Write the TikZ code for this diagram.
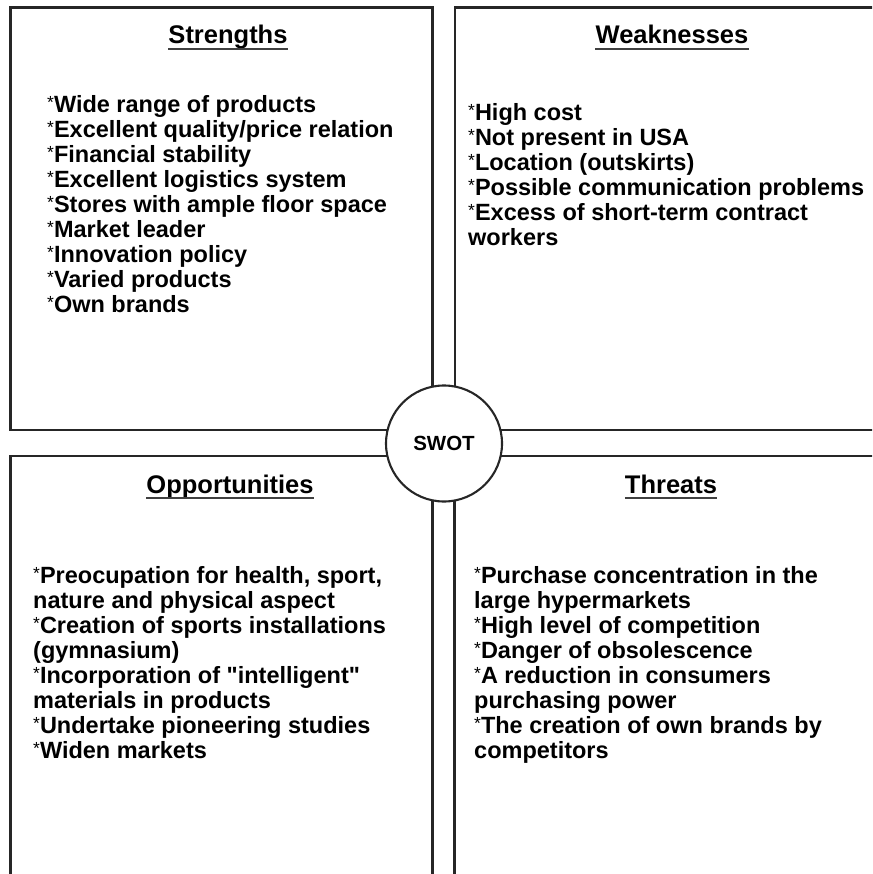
\documentclass[tikz,border=0pt]{standalone}
\usepackage{fontspec}
\setmainfont{Liberation Sans}[Ligatures=TeXOff]
\newcommand\bul{\raisebox{4pt}{\mdseries\fontsize{17.5}{17.5}\selectfont *}}
\begin{document}
\begin{tikzpicture}[x=1pt,y=-1pt,
  quad/.style={draw=black!85, line width=2.1pt, anchor=north west, inner sep=0pt, outer sep=0pt},
  hub/.style={draw=black!85, line width=2.1pt, fill=white, circle, minimum size=116pt, inner sep=0pt,
              font=\bfseries\fontsize{20.5}{22}\selectfont},
  ttl/.style={font=\bfseries\fontsize{25.5}{28}\selectfont, anchor=base, inner sep=0pt},
  body/.style={font=\bfseries\fontsize{23.5}{25}\selectfont, align=left, anchor=north west, inner sep=0pt},
  uline/.style={line width=1.3pt, black!75}
]
\fill[white] (0,0) rectangle (872,874);
\useasboundingbox (0,0) rectangle (872,874);
\clip (0,0) rectangle (872,874);
% quadrants
\node[quad, minimum width=422pt, minimum height=422.5pt] (S) at (10.5,7.5) {};
\node[quad, minimum width=445pt, minimum height=422.5pt] (W) at (455,7.5) {};
\node[quad, minimum width=422pt, minimum height=444pt] (O) at (10.5,456) {};
\node[quad, minimum width=445pt, minimum height=444pt] (T) at (454.5,456) {};
% centre
\node[hub] (swot) at (444,443.5) {SWOT};
% titles
\node[ttl] (tS) at (228,44) {Strengths};
\node[ttl] (tW) at (672,44) {Weaknesses};
\node[ttl] (tO) at (230,493) {Opportunities};
\node[ttl] (tT) at (671,493) {Threats};
\foreach \t in {tS,tW,tO,tT}
  \draw[uline] ([yshift=-5pt]\t.base west) -- ([yshift=-5pt]\t.base east);
% bodies
\node[body] (bS) at (47,95) {\bul Wide range of products\\\bul Excellent quality/price relation\\\bul Financial stability\\\bul Excellent logistics system\\\bul Stores with ample floor space\\\bul Market leader\\\bul Innovation policy\\\bul Varied products\\\bul Own brands};
\node[body] (bW) at (468,103) {\bul High cost\\\bul Not present in USA\\\bul Location (outskirts)\\\bul Possible communication problems\\\bul Excess of short-term contract\\workers};
\node[body] (bO) at (33,566) {\bul Preocupation for health, sport,\\nature and physical aspect\\\bul Creation of sports installations\\(gymnasium)\\\bul Incorporation of "intelligent"\\materials in products\\\bul Undertake pioneering studies\\\bul Widen markets};
\node[body] (bT) at (474,566) {\bul Purchase concentration in the\\large hypermarkets\\\bul High level of competition\\\bul Danger of obsolescence\\\bul A reduction in consumers\\purchasing power\\\bul The creation of own brands by\\competitors};
\end{tikzpicture}
\end{document}
